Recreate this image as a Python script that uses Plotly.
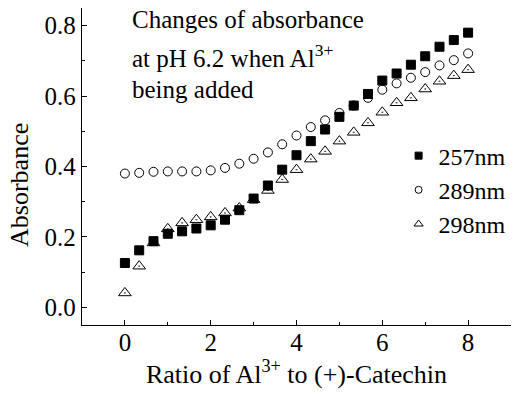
import plotly.graph_objects as go

ratio = [i / 3 for i in range(25)]
abs_257 = [0.126, 0.162, 0.188, 0.209, 0.216, 0.224, 0.233, 0.249, 0.276, 0.309, 0.346,
           0.391, 0.432, 0.472, 0.505, 0.541, 0.573, 0.606, 0.644, 0.664, 0.689, 0.713,
           0.740, 0.759, 0.780]
abs_289 = [0.380, 0.382, 0.385, 0.386, 0.386, 0.386, 0.389, 0.396, 0.408, 0.422, 0.440,
           0.463, 0.488, 0.512, 0.531, 0.552, 0.573, 0.595, 0.618, 0.636, 0.652, 0.668,
           0.687, 0.702, 0.721]
abs_298 = [0.041, 0.117, 0.183, 0.223, 0.240, 0.249, 0.257, 0.268, 0.282, 0.306, 0.332,
           0.363, 0.391, 0.421, 0.443, 0.472, 0.497, 0.524, 0.554, 0.581, 0.595, 0.620,
           0.642, 0.658, 0.675]
series_names = ["257nm", "289nm", "298nm"]
x_ticks = [0, 2, 4, 6, 8]
y_ticks = [0, 0.2, 0.4, 0.6, 0.8]
y_ticklabels = ["0.0", "0.2", "0.4", "0.6", "0.8"]

FONT = "Liberation Serif, Times New Roman, serif"
fig = go.Figure()

styles = [
    dict(symbol="square", size=9, color="black", line=dict(color="black", width=1)),
    dict(symbol="circle-open", size=9, color="black", line=dict(color="black", width=1)),
    dict(symbol="triangle-up-open-dot", size=11, color="black", line=dict(color="black", width=1)),
]
for name, ys, st in zip(series_names, [abs_257, abs_289, abs_298], styles):
    fig.add_trace(go.Scatter(x=ratio, y=ys, mode="markers", marker=st,
                             showlegend=False, name=name))
for name, st in zip(series_names, styles):
    leg = dict(st)
    leg["size"] = 7 if st["symbol"] != "triangle-up-open-dot" else 8
    if st["symbol"] == "triangle-up-open-dot":
        leg["symbol"] = "triangle-up-open"
    fig.add_trace(go.Scatter(x=[None], y=[None], mode="markers", marker=leg, name=name))

axis_common = dict(showline=True, linecolor="black", linewidth=1.3, ticks="inside",
                   ticklen=5, tickwidth=1, tickcolor="black", showgrid=False,
                   zeroline=False, mirror=False,
                   tickfont=dict(family=FONT, size=25, color="black"))
fig.update_xaxes(range=[-1, 9], tickvals=x_ticks, ticktext=[str(v) for v in x_ticks],
                 ticklabelstandoff=-5,
                 minor=dict(tickvals=[-1, 1, 3, 5, 7, 9], ticks="inside", ticklen=3,
                            tickcolor="black", tickwidth=1),
                 title=dict(text="Ratio of Al<sup>3+</sup> to (+)-Catechin",
                            font=dict(family=FONT, size=26, color="black"), standoff=7),
                 **axis_common)
fig.update_yaxes(range=[-0.05, 0.85], tickvals=y_ticks, ticktext=y_ticklabels,
                 minor=dict(tickvals=[0.1, 0.3, 0.5, 0.7], ticks="inside", ticklen=3,
                            tickcolor="black", tickwidth=1),
                 **axis_common)

ann_lines = ["Changes of absorbance", "at pH 6.2 when Al<sup>3+</sup>", "being added"]
ann_y = [0.817, 0.713, 0.618]
for txt, yy in zip(ann_lines, ann_y):
    fig.add_annotation(x=0.13, y=yy, xref="x", yref="y", text=txt, showarrow=False,
                       xanchor="left", yanchor="middle",
                       font=dict(family=FONT, size=25, color="black"))
fig.add_annotation(x=-0.147, y=(325 - 185) / 317, xref="paper", yref="paper",
                   text="Absorbance", textangle=-90, showarrow=False,
                   xanchor="center", yanchor="middle",
                   font=dict(family=FONT, size=26, color="black"))

fig.update_layout(
    width=517, height=398,
    margin=dict(l=82, r=6, t=8, b=73),
    paper_bgcolor="white", plot_bgcolor="white",
    legend=dict(x=0.738, y=0.604, xanchor="left", yanchor="top",
                font=dict(family=FONT, size=24, color="black"),
                bgcolor="rgba(0,0,0,0)", itemwidth=30, tracegroupgap=0),
)
fig.write_html("out.html")
